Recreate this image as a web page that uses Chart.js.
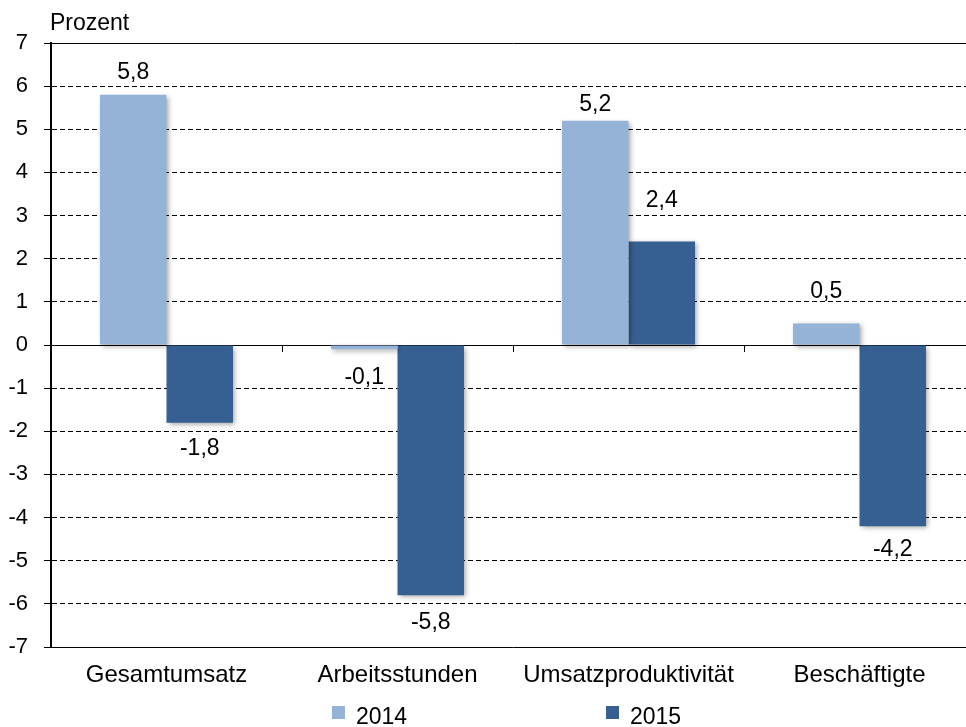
<!DOCTYPE html>
<html>
<head>
<meta charset="utf-8">
<script src="https://cdn.jsdelivr.net/npm/chart.js@4/dist/chart.umd.min.js"></script>
<style>
  html, body { margin: 0; padding: 0; background: #fff; overflow: hidden; }
  #wrap { width: 980px; height: 727px; position: relative; }
</style>
</head>
<body>
<div id="wrap"><canvas id="chart"></canvas></div>
<script>
// Daten
const categories = ['Gesamtumsatz', 'Arbeitsstunden', 'Umsatzproduktivität', 'Beschäftigte'];
const seriesNames = ['2014', '2015'];
const values2014 = [5.8, -0.1, 5.2, 0.5];
const values2015 = [-1.8, -5.8, 2.4, -4.2];
const yMin = -7;
const yMax = 7;
const yUnit = 'Prozent';

// Stil
const FONT = "'Liberation Sans', Arial, sans-serif";
const colors = ['#95b3d7', '#376092'];
// Abstand Balkenende -> Beschriftung (wie im Original leicht unterschiedlich)
const labelGap = [[22, 28, 16, 32], [26, 27, 41, 23]];

const ctx = document.getElementById('chart').getContext('2d');

const decor = {
  id: 'decor',
  beforeDatasetsDraw(chart) {
    const c = chart.ctx;
    c.save();
    c.shadowColor = 'rgba(0,0,0,0.35)';
    c.shadowBlur = 5;
    c.shadowOffsetX = 2;
    c.shadowOffsetY = 2;
  },
  afterDatasetsDraw(chart) {
    const c = chart.ctx;
    c.restore();
    const x = chart.scales.x, y = chart.scales.y, area = chart.chartArea;
    const y0 = y.getPixelForValue(0);

    // Teilstriche an der Nulllinie
    const half = (x.getPixelForValue(1) - x.getPixelForValue(0)) / 2;
    c.save();
    c.strokeStyle = '#000';
    c.lineWidth = 1;
    c.beginPath();
    for (let i = 1; i <= categories.length; i++) {
      const px = Math.round(x.getPixelForValue(i) - half) + 0.5;
      c.moveTo(px, y0);
      c.lineTo(px, y0 + 7);
    }
    c.stroke();

    // Werte
    c.fillStyle = '#000';
    c.font = '23px ' + FONT;
    c.textAlign = 'center';
    c.textBaseline = 'middle';
    chart.data.datasets.forEach((ds, di) => {
      chart.getDatasetMeta(di).data.forEach((bar, i) => {
        const v = ds.data[i];
        const txt = v.toFixed(1).replace('.', ',');
        const gap = labelGap[di][i];
        c.fillText(txt, bar.x, v >= 0 ? bar.y - gap : bar.y + gap);
      });
    });

    // Einheit
    c.textAlign = 'left';
    c.textBaseline = 'alphabetic';
    c.fillText(yUnit, area.left - 1, area.top - 13);

    // Legende
    const mid = (area.left + area.right) / 2;
    const starts = [mid - 181, mid + 93];
    chart.data.datasets.forEach((ds, di) => {
      c.fillStyle = ds.backgroundColor;
      c.fillRect(starts[di], 706, 13, 13);
      c.fillStyle = '#000';
      c.fillText(ds.label, starts[di] + 24, 724);
    });
    c.restore();
  }
};

new Chart(ctx, {
  type: 'bar',
  data: {
    labels: categories,
    datasets: [
      { label: seriesNames[0], data: values2014, backgroundColor: colors[0] },
      { label: seriesNames[1], data: values2015, backgroundColor: colors[1] }
    ]
  },
  options: {
    responsive: true,
    maintainAspectRatio: false,
    animation: false,
    devicePixelRatio: 1,
    layout: { padding: { top: 43, right: 5, left: 0, bottom: 0 } },
    datasets: { bar: { categoryPercentage: 0.576, barPercentage: 1.0, borderWidth: 0 } },
    plugins: {
      legend: { display: false },
      tooltip: { enabled: false }
    },
    scales: {
      x: {
        grid: { display: false, drawTicks: false },
        border: { display: false },
        ticks: { color: '#000', font: { family: FONT, size: 24 }, padding: 14, maxRotation: 0 },
        afterFit(scale) { scale.height = 80; }
      },
      y: {
        min: yMin,
        max: yMax,
        ticks: {
          stepSize: 1,
          color: '#000',
          padding: 16,
          font: { family: FONT, size: 22 },
          callback: v => String(v)
        },
        grid: {
          color: '#000',
          lineWidth: 1,
          tickLength: 7,
          tickColor: '#000',
          tickBorderDash: []
        },
        border: {
          display: true,
          color: '#000',
          width: 2,
          dash: ctx => (ctx.tick && [0, yMin, yMax].indexOf(ctx.tick.value) < 0) ? [5, 3] : []
        },
        afterFit(scale) { scale.width = 51; }
      }
    }
  },
  plugins: [decor]
});
</script>
</body>
</html>
